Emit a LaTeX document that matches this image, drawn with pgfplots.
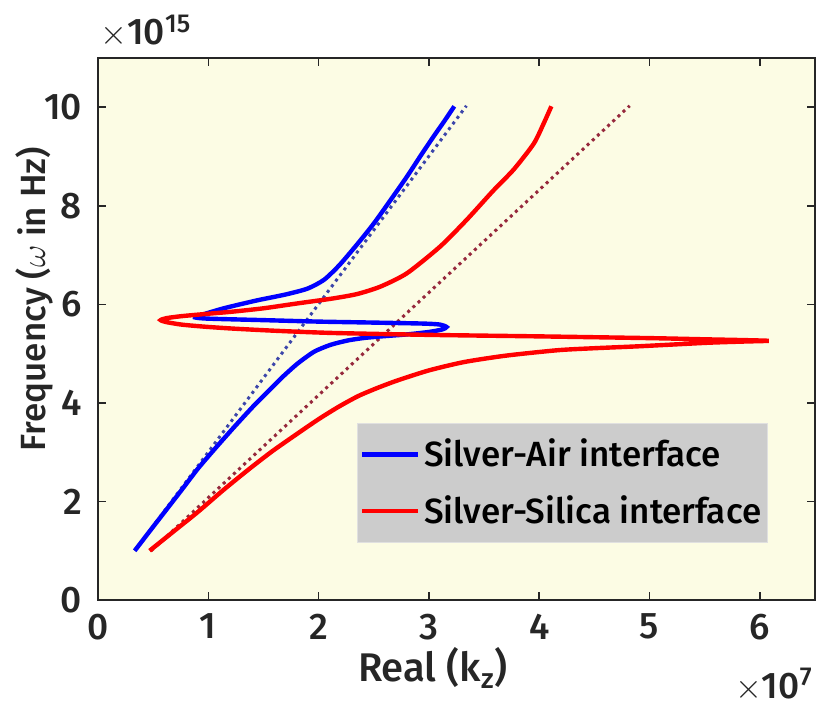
\documentclass[border=0pt]{standalone}
\usepackage{pgfplots}
\pgfplotsset{compat=1.18}
\usepackage{fontspec}
\IfFontExistsTF{Fira Sans Medium}{\setmainfont{Fira Sans Medium}}{\setmainfont{Fira Sans}}
\definecolor{bgyel}{RGB}{252,252,228}
\definecolor{axgray}{RGB}{38,38,38}
\definecolor{legg}{RGB}{204,204,204}
\definecolor{dotblue}{RGB}{60,70,170}
\definecolor{dotred}{RGB}{150,40,60}
\begin{document}
\begin{tikzpicture}
\useasboundingbox (-49pt,-53pt) rectangle (359.5pt,300pt);
\begin{axis}[
  at={(0,0)}, anchor=south west,
  scale only axis, width=358.5pt, height=271pt,
  xmin=0, xmax=6.5, ymin=0, ymax=11,
  xtick={0,1,2,3,4,5,6}, ytick={0,2,4,6,8,10},
  tick align=inside, major tick length=4pt,
  clip mode=individual,
  axis background/.style={fill=bgyel},
  axis line style={axgray, line width=0.9pt},
  tick style={axgray, line width=0.8pt},
  /pgf/number format/assume math mode=true,
  ticklabel style={font=\fontsize{18.5}{21}\selectfont, text=axgray},
  xticklabel style={yshift=-3.5pt},
  yticklabel style={xshift=-4.5pt},
  xlabel={Real (k$_{\mathrm{z}}$)},
  label style={text=axgray},
  xlabel style={font=\fontsize{20}{23}\selectfont, at={(ticklabel cs:0.467)}, anchor=north, yshift=3pt},
  legend cell align=left,
  legend style={at={(rel axis cs:0.934,0.105)}, anchor=south east,
    fill=legg, draw=black!12, font=\fontsize{17.5}{20}\selectfont,
    inner xsep=1pt, inner ysep=6pt, row sep=9pt},
  legend image code/.code={\draw[#1] (0pt,0pt) -- (28pt,0pt);},
]
\addplot[dotblue, line width=1.5pt, dotted, forget plot] coordinates {(0.333,1.0) (3.34,10.03)};
\addplot[dotred, line width=1.5pt, dotted, forget plot] coordinates {(0.483,1.0) (4.82,10.03)};
\addplot[blue, line width=2.2pt, smooth, tension=0.4] coordinates {
(0.333,1.00) (0.47,1.40) (0.605,1.79) (0.757,2.23) (0.907,2.67) (1.06,3.07)
(1.21,3.45) (1.32,3.72) (1.42,3.96) (1.55,4.25) (1.67,4.52) (1.81,4.80)
(1.96,5.04) (2.11,5.18) (2.27,5.27) (2.42,5.32) (2.57,5.35) (2.80,5.39)
(3.00,5.44) (3.12,5.49) (3.16,5.54) (3.10,5.59) (2.95,5.61) (2.50,5.63)
(2.00,5.65) (1.50,5.68) (1.00,5.71) (0.88,5.735) (0.93,5.78) (1.14,5.92)
(1.44,6.08) (1.70,6.20) (1.90,6.32) (2.05,6.50) (2.19,6.80) (2.35,7.22)
(2.50,7.64) (2.65,8.11) (2.80,8.59) (2.92,9.00) (3.04,9.40) (3.14,9.72)
(3.23,10.02)};
\addlegendentry{Silver-Air interface}
\addplot[red, line width=2.2pt, smooth, tension=0.4] coordinates {
(0.468,1.00) (0.69,1.40) (0.907,1.79) (1.13,2.22) (1.36,2.64) (1.58,3.02)
(1.81,3.38) (2.00,3.67) (2.18,3.92) (2.36,4.14) (2.54,4.31) (2.72,4.46)
(3.00,4.66) (3.32,4.83) (3.70,4.96) (4.17,5.07) (4.50,5.11) (4.91,5.15)
(5.52,5.22) (5.85,5.245) (6.08,5.26) (5.85,5.275) (5.52,5.29) (5.00,5.315)
(4.01,5.35) (3.02,5.38) (2.12,5.42) (1.60,5.465) (1.21,5.51) (0.95,5.55)
(0.755,5.59) (0.62,5.64) (0.568,5.68) (0.62,5.72) (0.755,5.76) (1.00,5.81)
(1.21,5.85) (1.50,5.92) (1.81,6.02) (2.13,6.12) (2.35,6.21) (2.56,6.36)
(2.80,6.63) (3.10,7.17) (3.34,7.71) (3.58,8.30) (3.77,8.74) (3.95,9.26)
(4.04,9.67) (4.11,10.02)};
\addlegendentry{Silver-Silica interface}
\node[anchor=base west, text=axgray, font=\fontsize{18.5}{21}\selectfont, inner sep=0pt, xshift=1pt, yshift=6.5pt]
  at (rel axis cs:0,1) {$\times$10\textsuperscript{15}};
\node[anchor=base east, text=axgray, font=\fontsize{18.5}{21}\selectfont, inner sep=0pt, xshift=-1pt, yshift=-49pt]
  at (rel axis cs:1,0) {$\times$10\textsuperscript{7}};
\end{axis}
\node[rotate=90, anchor=center, inner sep=0pt, text=axgray, font=\fontsize{17.5}{20}\selectfont]
  at (-32pt,150.4pt) {Frequency ($\omega$ in Hz)};
\end{tikzpicture}
\end{document}
